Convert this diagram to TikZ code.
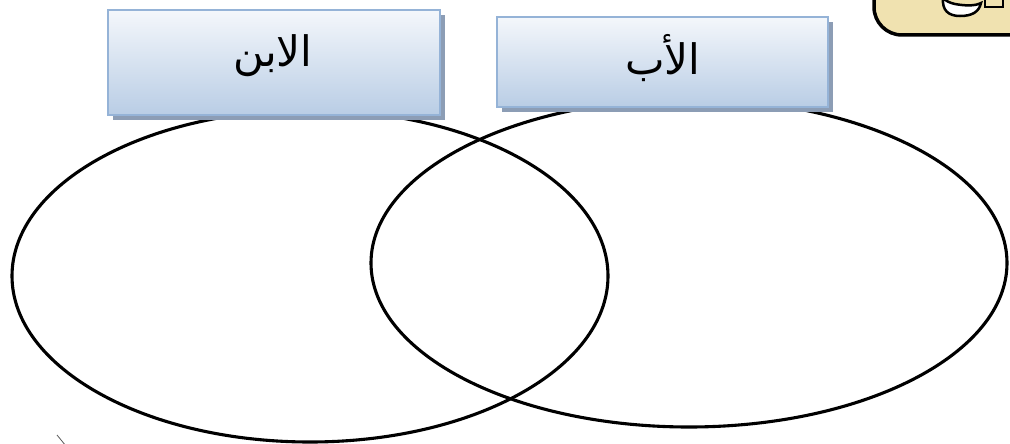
\documentclass[tikz,border=0pt]{standalone}
\usepackage{fontspec}
\usetikzlibrary{shadows}
\TeXXeTstate=1
\newfontfamily\arabicfont[Script=Arabic]{DejaVu Sans}
\definecolor{boxline}{HTML}{95B3D7}
\definecolor{boxtop}{HTML}{F4F7FB}
\definecolor{boxbot}{HTML}{B9CDE5}
\definecolor{boxshadow}{HTML}{8C9DB5}
\definecolor{notefill}{HTML}{F0E2B0}
\tikzset{
  titlebox/.style={draw=boxline, line width=1.8pt, top color=boxtop, bottom color=boxbot,
    drop shadow={shadow xshift=4.5pt, shadow yshift=-5pt, fill=boxshadow, opacity=1},
    inner sep=0pt},
  titletext/.style={font=\arabicfont\fontsize{42}{50}\selectfont, inner sep=0pt},
  setline/.style={line width=3.1pt, black}
}
\begin{document}
\begin{tikzpicture}[x=1pt,y=-1pt]
\useasboundingbox (0,0) rectangle (1010,444);
\clip (0,0) rectangle (1010,444);
\fill[white] (0,0) rectangle (1010,444);
% Venn ellipses
\draw[setline] (310,276) ellipse [x radius=298, y radius=166];
\draw[setline] (689,263) ellipse [x radius=318, y radius=164];
% thin fragment bottom-left
\coordinate (fa) at (57,435);
\coordinate (fb) at (66,446);
\draw[gray!70!black, line width=0.8pt] (fa) -- (fb);
% title boxes
\node[titlebox, minimum width=332pt, minimum height=105pt] (son) at (274,62.5) {};
\node[titletext] (sontext) at (273,56) {\beginR الابن\endR};
\node[titlebox, minimum width=331pt, minimum height=90pt] (father) at (662.5,62) {};
\node[titletext] (fathertext) at (663,58) {\beginR الأب\endR};
% partial note box top-right
\draw[line width=3.5pt, fill=notefill, rounded corners=28pt] (874,-60) rectangle (1060,35);
\draw[line width=2.5pt, fill=white] (943,-2) .. controls (942,10) and (948,16) .. (960,16)
  .. controls (972,16) and (979,12) .. (981,3) .. controls (975,6) and (966,6) .. (955,4)
  .. controls (950,3) and (946,1) .. (943,-2) -- cycle;
\draw[line width=2.5pt, fill=notefill] (985,-6) rectangle (1003,7);
\end{tikzpicture}
\end{document}
